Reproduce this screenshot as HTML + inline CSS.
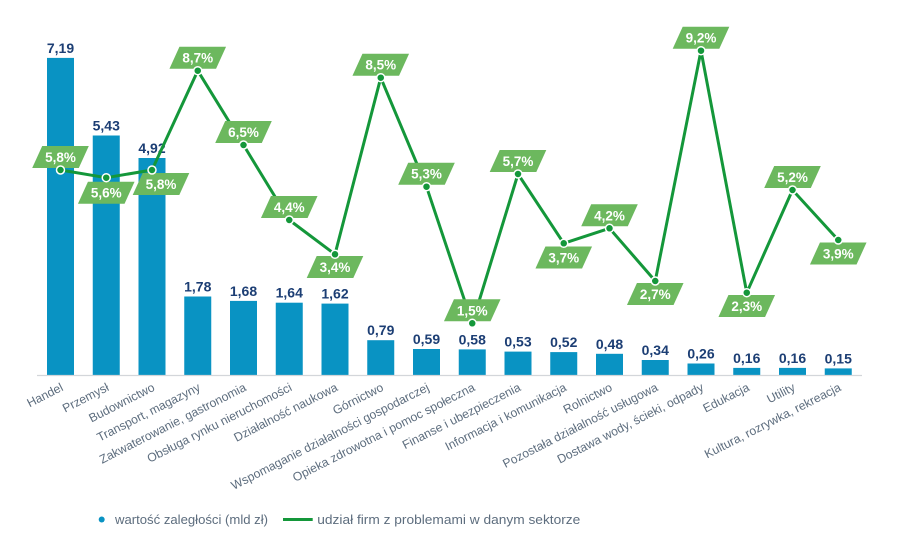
<!DOCTYPE html>
<html>
<head>
<meta charset="utf-8">
<style>
html,body{margin:0;padding:0;background:#fff;}
svg{display:block;}
.v{font-family:"Liberation Sans",sans-serif;font-weight:bold;font-size:14px;fill:#1c3e74;text-anchor:middle;}
.p{font-family:"Liberation Sans",sans-serif;font-weight:bold;font-size:13.5px;fill:#fff;text-anchor:middle;}
.a{font-family:"Liberation Sans",sans-serif;font-size:12.2px;fill:#5d6d7e;text-anchor:end;}
.l{font-family:"Liberation Sans",sans-serif;font-size:13px;fill:#5d6d7e;}
.b{fill:#0993c3;}
.box{fill:#6cb85e;}
</style>
</head>
<body>
<svg width="897" height="545" viewBox="0 0 897 545" xmlns="http://www.w3.org/2000/svg">
<rect width="897" height="545" fill="#fff"/>
<!-- bars -->
<rect class="b" x="47" y="57.9" width="27" height="317.1"/>
<rect class="b" x="92.75" y="135.5" width="27" height="239.5"/>
<rect class="b" x="138.5" y="158" width="27" height="217"/>
<rect class="b" x="184.25" y="296.5" width="27" height="78.5"/>
<rect class="b" x="230" y="300.9" width="27" height="74.1"/>
<rect class="b" x="275.75" y="302.7" width="27" height="72.3"/>
<rect class="b" x="321.5" y="303.6" width="27" height="71.4"/>
<rect class="b" x="367.25" y="340.2" width="27" height="34.8"/>
<rect class="b" x="413" y="349" width="27" height="26"/>
<rect class="b" x="458.75" y="349.4" width="27" height="25.6"/>
<rect class="b" x="504.5" y="351.6" width="27" height="23.4"/>
<rect class="b" x="550.25" y="352.1" width="27" height="22.9"/>
<rect class="b" x="596" y="353.8" width="27" height="21.2"/>
<rect class="b" x="641.75" y="360" width="27" height="15"/>
<rect class="b" x="687.5" y="363.5" width="27" height="11.5"/>
<rect class="b" x="733.25" y="367.9" width="27" height="7.1"/>
<rect class="b" x="779" y="367.9" width="27" height="7.1"/>
<rect class="b" x="824.75" y="368.4" width="27" height="6.6"/>
<!-- axis -->
<line x1="37" y1="375.5" x2="862" y2="375.5" stroke="#d3d6da" stroke-width="1.2"/>
<!-- value labels -->
<text class="v" x="60.5" y="52.9">7,19</text>
<text class="v" x="106.25" y="130.5">5,43</text>
<text class="v" x="152" y="153">4,92</text>
<text class="v" x="197.75" y="291.5">1,78</text>
<text class="v" x="243.5" y="295.9">1,68</text>
<text class="v" x="289.25" y="297.7">1,64</text>
<text class="v" x="335" y="298.6">1,62</text>
<text class="v" x="380.75" y="335.2">0,79</text>
<text class="v" x="426.5" y="344">0,59</text>
<text class="v" x="472.25" y="344.4">0,58</text>
<text class="v" x="518" y="346.6">0,53</text>
<text class="v" x="563.75" y="347.1">0,52</text>
<text class="v" x="609.5" y="348.8">0,48</text>
<text class="v" x="655.25" y="355">0,34</text>
<text class="v" x="701" y="358.5">0,26</text>
<text class="v" x="746.75" y="362.9">0,16</text>
<text class="v" x="792.5" y="362.9">0,16</text>
<text class="v" x="838.25" y="363.4">0,15</text>
<!-- line -->
<polyline fill="none" stroke="#14973a" stroke-width="3" stroke-linejoin="round" points="60.5,170 106.25,177.7 152,170 197.75,70.7 243.5,145 289.25,220 335,254.3 380.75,77.7 426.5,186.7 472.25,323.3 518,174 563.75,243.3 609.5,228.3 655.25,281 701,50.7 746.75,292.7 792.5,190 838.25,240"/>
<!-- percent label boxes -->
<g transform="translate(60.5,146)"><path class="box" d="M-28.3 22L-18.3 0L28.3 0L18.3 22Z"/><text class="p" x="0" y="16">5,8%</text></g>
<g transform="translate(106.25,181.7)"><path class="box" d="M-28.3 22L-18.3 0L28.3 0L18.3 22Z"/><text class="p" x="0" y="16">5,6%</text></g>
<g transform="translate(161,173)"><path class="box" d="M-28.3 22L-18.3 0L28.3 0L18.3 22Z"/><text class="p" x="0" y="16">5,8%</text></g>
<g transform="translate(197.75,46.7)"><path class="box" d="M-28.3 22L-18.3 0L28.3 0L18.3 22Z"/><text class="p" x="0" y="16">8,7%</text></g>
<g transform="translate(243.5,121)"><path class="box" d="M-28.3 22L-18.3 0L28.3 0L18.3 22Z"/><text class="p" x="0" y="16">6,5%</text></g>
<g transform="translate(289.25,196)"><path class="box" d="M-28.3 22L-18.3 0L28.3 0L18.3 22Z"/><text class="p" x="0" y="16">4,4%</text></g>
<g transform="translate(335,256)"><path class="box" d="M-28.3 22L-18.3 0L28.3 0L18.3 22Z"/><text class="p" x="0" y="16">3,4%</text></g>
<g transform="translate(380.75,53.7)"><path class="box" d="M-28.3 22L-18.3 0L28.3 0L18.3 22Z"/><text class="p" x="0" y="16">8,5%</text></g>
<g transform="translate(426.5,162.7)"><path class="box" d="M-28.3 22L-18.3 0L28.3 0L18.3 22Z"/><text class="p" x="0" y="16">5,3%</text></g>
<g transform="translate(472.25,299.3)"><path class="box" d="M-28.3 22L-18.3 0L28.3 0L18.3 22Z"/><text class="p" x="0" y="16">1,5%</text></g>
<g transform="translate(518,150)"><path class="box" d="M-28.3 22L-18.3 0L28.3 0L18.3 22Z"/><text class="p" x="0" y="16">5,7%</text></g>
<g transform="translate(563.75,246.5)"><path class="box" d="M-28.3 22L-18.3 0L28.3 0L18.3 22Z"/><text class="p" x="0" y="16">3,7%</text></g>
<g transform="translate(609.5,204.3)"><path class="box" d="M-28.3 22L-18.3 0L28.3 0L18.3 22Z"/><text class="p" x="0" y="16">4,2%</text></g>
<g transform="translate(655.25,283)"><path class="box" d="M-28.3 22L-18.3 0L28.3 0L18.3 22Z"/><text class="p" x="0" y="16">2,7%</text></g>
<g transform="translate(701,26.7)"><path class="box" d="M-28.3 22L-18.3 0L28.3 0L18.3 22Z"/><text class="p" x="0" y="16">9,2%</text></g>
<g transform="translate(746.75,295)"><path class="box" d="M-28.3 22L-18.3 0L28.3 0L18.3 22Z"/><text class="p" x="0" y="16">2,3%</text></g>
<g transform="translate(792.5,166)"><path class="box" d="M-28.3 22L-18.3 0L28.3 0L18.3 22Z"/><text class="p" x="0" y="16">5,2%</text></g>
<g transform="translate(838.25,242.5)"><path class="box" d="M-28.3 22L-18.3 0L28.3 0L18.3 22Z"/><text class="p" x="0" y="16">3,9%</text></g>
<!-- markers -->
<g fill="#14973a" stroke="#fff" stroke-width="1.5">
<circle cx="60.5" cy="170" r="4"/>
<circle cx="106.25" cy="177.7" r="4"/>
<circle cx="152" cy="170" r="4"/>
<circle cx="197.75" cy="70.7" r="4"/>
<circle cx="243.5" cy="145" r="4"/>
<circle cx="289.25" cy="220" r="4"/>
<circle cx="335" cy="254.3" r="4"/>
<circle cx="380.75" cy="77.7" r="4"/>
<circle cx="426.5" cy="186.7" r="4"/>
<circle cx="472.25" cy="323.3" r="4"/>
<circle cx="518" cy="174" r="4"/>
<circle cx="563.75" cy="243.3" r="4"/>
<circle cx="609.5" cy="228.3" r="4"/>
<circle cx="655.25" cy="281" r="4"/>
<circle cx="701" cy="50.7" r="4"/>
<circle cx="746.75" cy="292.7" r="4"/>
<circle cx="792.5" cy="190" r="4"/>
<circle cx="838.25" cy="240" r="4"/>
</g>
<!-- axis labels -->
<text class="a" x="64" y="390" transform="rotate(-27 64 390)">Handel</text>
<text class="a" x="109.75" y="390" transform="rotate(-27 109.75 390)">Przemysł</text>
<text class="a" x="155.5" y="390" transform="rotate(-27 155.5 390)">Budownictwo</text>
<text class="a" x="201.25" y="390" transform="rotate(-27 201.25 390)">Transport, magazyny</text>
<text class="a" x="247" y="390" transform="rotate(-27 247 390)">Zakwaterowanie, gastronomia</text>
<text class="a" x="292.75" y="390" transform="rotate(-27 292.75 390)">Obsługa rynku nieruchomości</text>
<text class="a" x="338.5" y="390" transform="rotate(-27 338.5 390)">Działalność naukowa</text>
<text class="a" x="384.25" y="390" transform="rotate(-27 384.25 390)">Górnictwo</text>
<text class="a" x="430" y="390" transform="rotate(-27 430 390)">Wspomaganie działalności gospodarczej</text>
<text class="a" x="475.75" y="390" transform="rotate(-27 475.75 390)">Opieka zdrowotna i pomoc społeczna</text>
<text class="a" x="521.5" y="390" transform="rotate(-27 521.5 390)">Finanse i ubezpieczenia</text>
<text class="a" x="567.25" y="390" transform="rotate(-27 567.25 390)">Informacja i komunikacja</text>
<text class="a" x="613" y="390" transform="rotate(-27 613 390)">Rolnictwo</text>
<text class="a" x="658.75" y="390" transform="rotate(-27 658.75 390)">Pozostała działalność usługowa</text>
<text class="a" x="704.5" y="390" transform="rotate(-27 704.5 390)">Dostawa wody, ścieki, odpady</text>
<text class="a" x="750.25" y="390" transform="rotate(-27 750.25 390)">Edukacja</text>
<text class="a" x="796" y="390" transform="rotate(-27 796 390)">Utility</text>
<text class="a" x="841.75" y="390" transform="rotate(-27 841.75 390)">Kultura, rozrywka, rekreacja</text>
<!-- legend -->
<circle cx="101.7" cy="519.5" r="3" fill="#0993c3"/>
<text class="l" x="115" y="524" textLength="153" lengthAdjust="spacingAndGlyphs">wartość zaległości (mld zł)</text>
<line x1="283" y1="519.5" x2="312.7" y2="519.5" stroke="#14973a" stroke-width="3"/>
<text class="l" x="317.3" y="524" textLength="263" lengthAdjust="spacingAndGlyphs">udział firm z problemami w danym sektorze</text>
</svg>
</body>
</html>
